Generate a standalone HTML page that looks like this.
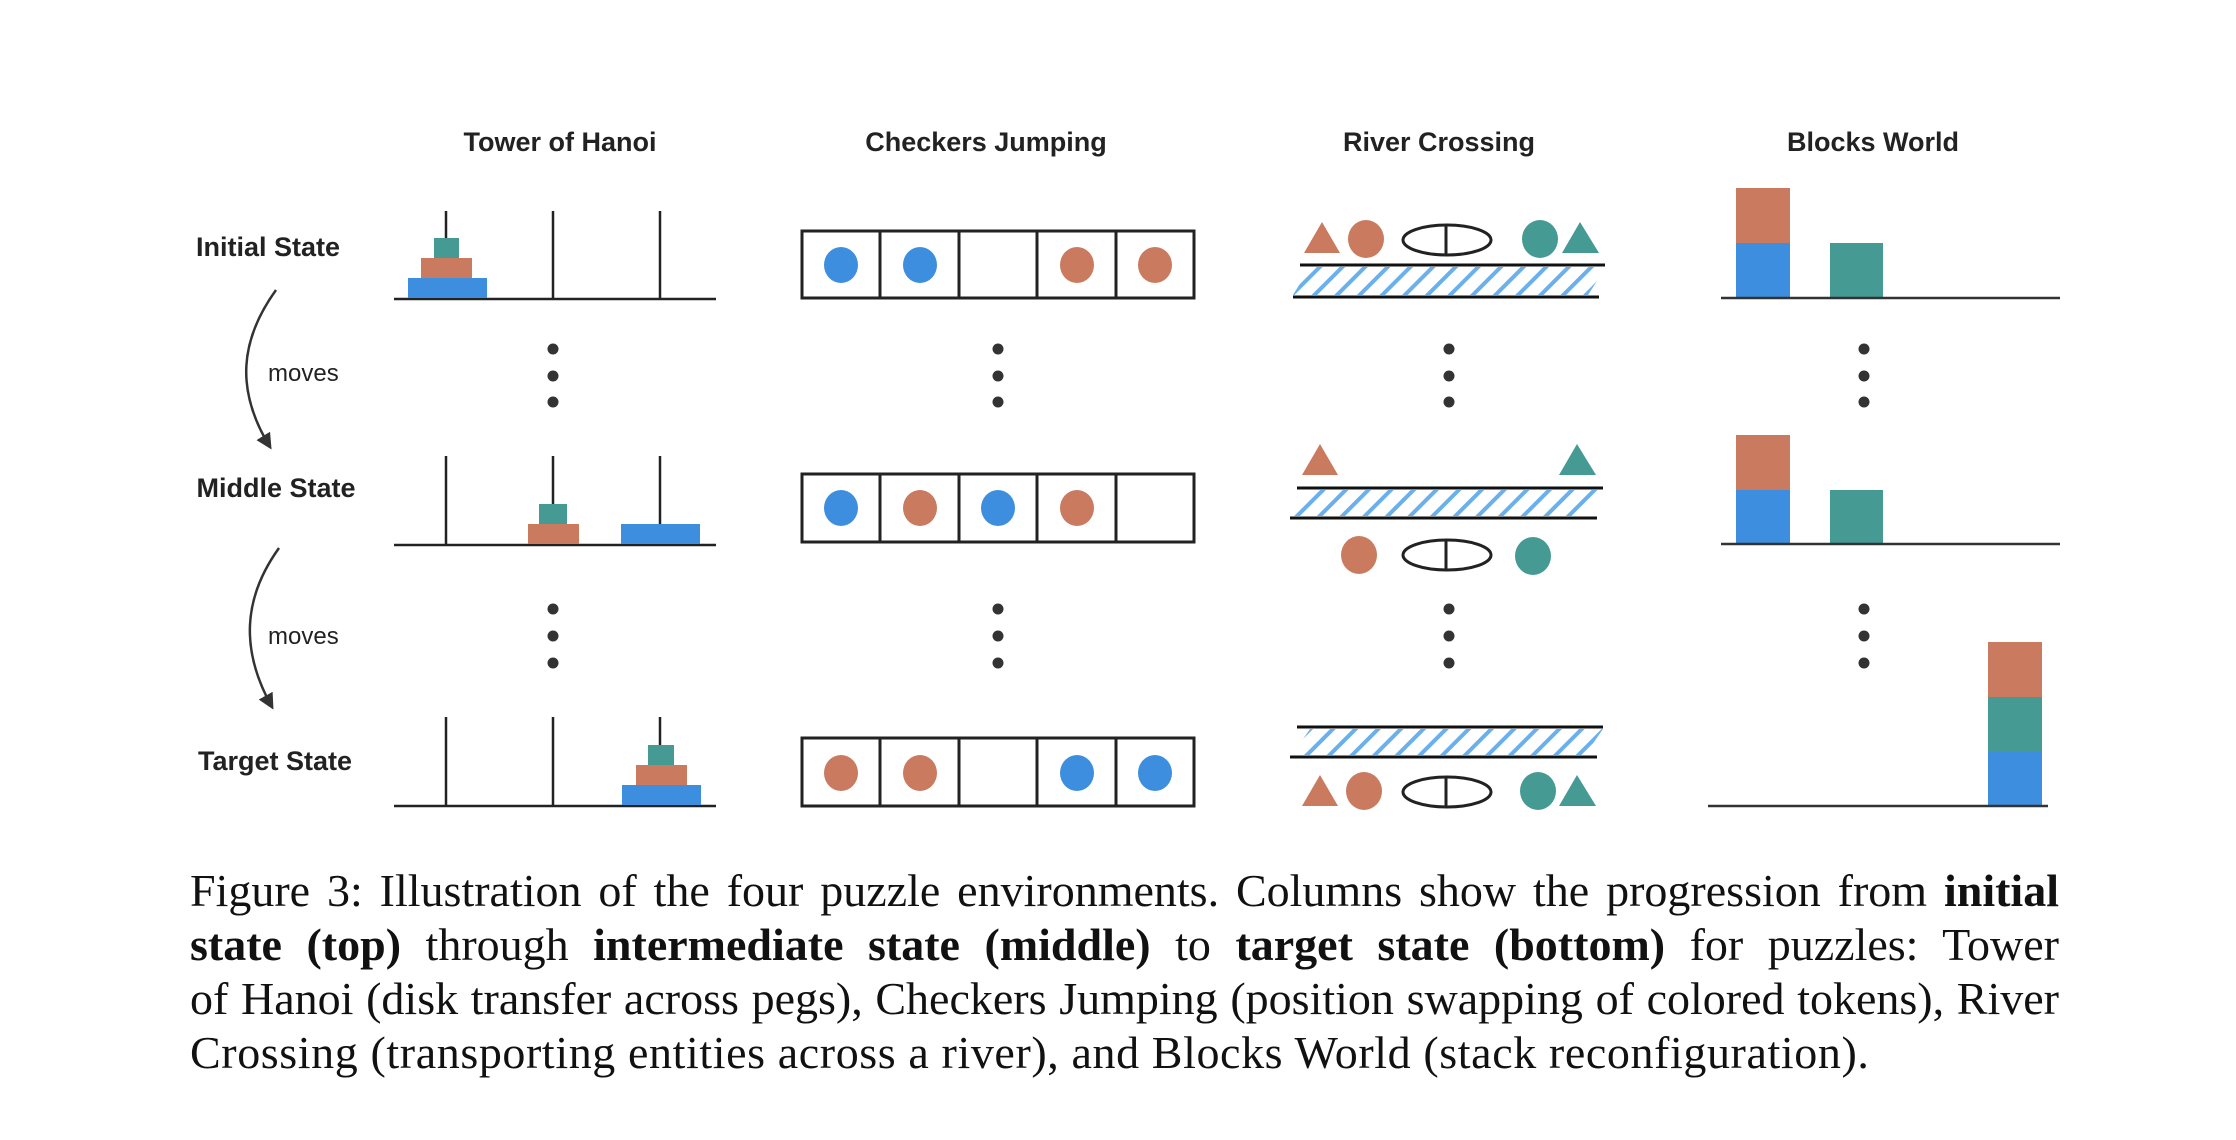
<!DOCTYPE html>
<html><head><meta charset="utf-8"><style>
html,body{margin:0;padding:0;background:#fff;width:2236px;height:1140px;overflow:hidden}
svg{position:absolute;left:0;top:0}
.cap{position:absolute;left:190px;width:1869px;font-family:"Liberation Serif",serif;font-size:46px;color:#111;line-height:54px;white-space:nowrap}
.j{text-align:justify;text-align-last:justify;white-space:normal;word-spacing:-3px}
</style></head><body>
<svg width="2236" height="1140" viewBox="0 0 2236 1140">
<defs>
<pattern id="h" width="16" height="16" patternUnits="userSpaceOnUse" patternTransform="rotate(45)">
<rect x="0" y="0" width="4" height="16" fill="#6ab0ec"/>
</pattern>
<marker id="ar" markerWidth="16" markerHeight="16" refX="13" refY="8" orient="auto" markerUnits="userSpaceOnUse"><path d="M0,0 L16,8 L0,16 Z" fill="#333"/></marker>
</defs>
<g font-family="Liberation Sans, sans-serif" font-weight="bold" font-size="27" fill="#222" text-anchor="middle">
<text x="560" y="151">Tower of Hanoi</text>
<text x="986" y="151">Checkers Jumping</text>
<text x="1439" y="151">River Crossing</text>
<text x="1873" y="151">Blocks World</text>
<text x="268" y="256">Initial State</text>
<text x="276" y="497">Middle State</text>
<text x="275" y="770">Target State</text>
</g>
<g font-family="Liberation Sans, sans-serif" font-size="24" fill="#222">
<text x="268" y="381">moves</text>
<text x="268" y="644">moves</text>
</g>
<g fill="none" stroke="#333" stroke-width="2.5">
<path d="M276,290 C240,340 235,390 270,447" marker-end="url(#ar)"/>
<path d="M279,548 C243,598 240,650 272,707" marker-end="url(#ar)"/>
</g>
<!-- Hanoi -->
<g stroke="#222" stroke-width="2.5">
<line x1="394" y1="299" x2="716" y2="299"/><line x1="446" y1="211" x2="446" y2="299"/><line x1="553" y1="211" x2="553" y2="299"/><line x1="660" y1="211" x2="660" y2="299"/>
<line x1="394" y1="545" x2="716" y2="545"/><line x1="446" y1="456" x2="446" y2="545"/><line x1="553" y1="456" x2="553" y2="545"/><line x1="660" y1="456" x2="660" y2="545"/>
<line x1="394" y1="806" x2="716" y2="806"/><line x1="446" y1="717" x2="446" y2="806"/><line x1="553" y1="717" x2="553" y2="806"/><line x1="660" y1="717" x2="660" y2="806"/>
</g>
<g>
<rect x="408" y="278" width="79" height="20" fill="#3e8ee0"/><rect x="421" y="258" width="51" height="20" fill="#c97a5f"/><rect x="434" y="238" width="25" height="20" fill="#459b94"/>
<rect x="539" y="504" width="28" height="20" fill="#459b94"/><rect x="528" y="524" width="51" height="20" fill="#c97a5f"/><rect x="621" y="524" width="79" height="20" fill="#3e8ee0"/>
<rect x="622" y="785" width="79" height="20" fill="#3e8ee0"/><rect x="636" y="765" width="51" height="20" fill="#c97a5f"/><rect x="648" y="745" width="26" height="20" fill="#459b94"/>
</g>
<!-- dots -->
<g fill="#333">
<circle cx="553" cy="349" r="5.5"/><circle cx="553" cy="376" r="5.5"/><circle cx="553" cy="402" r="5.5"/>
<circle cx="553" cy="609" r="5.5"/><circle cx="553" cy="636" r="5.5"/><circle cx="553" cy="663" r="5.5"/>
<circle cx="998" cy="349" r="5.5"/><circle cx="998" cy="376" r="5.5"/><circle cx="998" cy="402" r="5.5"/>
<circle cx="998" cy="609" r="5.5"/><circle cx="998" cy="636" r="5.5"/><circle cx="998" cy="663" r="5.5"/>
<circle cx="1449" cy="349" r="5.5"/><circle cx="1449" cy="376" r="5.5"/><circle cx="1449" cy="402" r="5.5"/>
<circle cx="1449" cy="609" r="5.5"/><circle cx="1449" cy="636" r="5.5"/><circle cx="1449" cy="663" r="5.5"/>
<circle cx="1864" cy="349" r="5.5"/><circle cx="1864" cy="376" r="5.5"/><circle cx="1864" cy="402" r="5.5"/>
<circle cx="1864" cy="609" r="5.5"/><circle cx="1864" cy="636" r="5.5"/><circle cx="1864" cy="663" r="5.5"/>
</g>
<!-- Checkers -->
<g fill="none" stroke="#222" stroke-width="3">
<rect x="802" y="231" width="392" height="67"/><line x1="880" y1="231" x2="880" y2="298"/><line x1="959" y1="231" x2="959" y2="298"/><line x1="1037" y1="231" x2="1037" y2="298"/><line x1="1116" y1="231" x2="1116" y2="298"/>
<rect x="802" y="474" width="392" height="68"/><line x1="880" y1="474" x2="880" y2="542"/><line x1="959" y1="474" x2="959" y2="542"/><line x1="1037" y1="474" x2="1037" y2="542"/><line x1="1116" y1="474" x2="1116" y2="542"/>
<rect x="802" y="738" width="392" height="68"/><line x1="880" y1="738" x2="880" y2="806"/><line x1="959" y1="738" x2="959" y2="806"/><line x1="1037" y1="738" x2="1037" y2="806"/><line x1="1116" y1="738" x2="1116" y2="806"/>
</g>
<g>
<ellipse cx="841" cy="265" rx="17" ry="18" fill="#3e8ee0"/><ellipse cx="920" cy="265" rx="17" ry="18" fill="#3e8ee0"/><ellipse cx="1077" cy="265" rx="17" ry="18" fill="#c97a5f"/><ellipse cx="1155" cy="265" rx="17" ry="18" fill="#c97a5f"/>
<ellipse cx="841" cy="508" rx="17" ry="18" fill="#3e8ee0"/><ellipse cx="920" cy="508" rx="17" ry="18" fill="#c97a5f"/><ellipse cx="998" cy="508" rx="17" ry="18" fill="#3e8ee0"/><ellipse cx="1077" cy="508" rx="17" ry="18" fill="#c97a5f"/>
<ellipse cx="841" cy="773" rx="17" ry="18" fill="#c97a5f"/><ellipse cx="920" cy="773" rx="17" ry="18" fill="#c97a5f"/><ellipse cx="1077" cy="773" rx="17" ry="18" fill="#3e8ee0"/><ellipse cx="1155" cy="773" rx="17" ry="18" fill="#3e8ee0"/>
</g>
<!-- River -->
<g>
<polygon points="1310,267 1606,267 1588,295 1293,295" fill="url(#h)"/>
<line x1="1300" y1="265" x2="1605" y2="265" stroke="#111" stroke-width="3"/>
<line x1="1293" y1="297" x2="1599" y2="297" stroke="#111" stroke-width="3"/>
<polygon points="1304,253 1322,222 1340,253" fill="#c97a5f"/>
<ellipse cx="1366" cy="239" rx="18" ry="19" fill="#c97a5f"/>
<ellipse cx="1447" cy="240" rx="44" ry="15" fill="none" stroke="#222" stroke-width="3"/><line x1="1446" y1="224" x2="1446" y2="256" stroke="#222" stroke-width="3"/>
<ellipse cx="1540" cy="239" rx="18" ry="19" fill="#459b94"/>
<polygon points="1562,253 1580,222 1599,253" fill="#459b94"/>

<polygon points="1306,490 1603,490 1585,516 1290,516" fill="url(#h)"/>
<line x1="1297" y1="488" x2="1603" y2="488" stroke="#111" stroke-width="3"/>
<line x1="1290" y1="518" x2="1597" y2="518" stroke="#111" stroke-width="3"/>
<polygon points="1302,475 1320,444 1338,475" fill="#c97a5f"/>
<polygon points="1559,475 1577,444 1596,475" fill="#459b94"/>
<ellipse cx="1359" cy="555" rx="18" ry="19" fill="#c97a5f"/>
<ellipse cx="1447" cy="555" rx="44" ry="15" fill="none" stroke="#222" stroke-width="3"/><line x1="1446" y1="539" x2="1446" y2="571" stroke="#222" stroke-width="3"/>
<ellipse cx="1533" cy="556" rx="18" ry="19" fill="#459b94"/>

<polygon points="1310,729 1603,729 1585,755 1292,755" fill="url(#h)"/>
<line x1="1297" y1="727" x2="1603" y2="727" stroke="#111" stroke-width="3"/>
<line x1="1290" y1="757" x2="1597" y2="757" stroke="#111" stroke-width="3"/>
<polygon points="1302,806 1320,775 1338,806" fill="#c97a5f"/>
<ellipse cx="1364" cy="791" rx="18" ry="19" fill="#c97a5f"/>
<ellipse cx="1447" cy="792" rx="44" ry="15" fill="none" stroke="#222" stroke-width="3"/><line x1="1446" y1="776" x2="1446" y2="808" stroke="#222" stroke-width="3"/>
<ellipse cx="1538" cy="791" rx="18" ry="19" fill="#459b94"/>
<polygon points="1559,806 1577,775 1596,806" fill="#459b94"/>
</g>
<!-- Blocks -->
<g>
<rect x="1736" y="188" width="54" height="55" fill="#c97a5f"/><rect x="1736" y="243" width="54" height="54" fill="#3e8ee0"/><rect x="1830" y="243" width="53" height="54" fill="#459b94"/>
<line x1="1721" y1="298" x2="2060" y2="298" stroke="#333" stroke-width="2.5"/>
<rect x="1736" y="435" width="54" height="55" fill="#c97a5f"/><rect x="1736" y="490" width="54" height="53" fill="#3e8ee0"/><rect x="1830" y="490" width="53" height="53" fill="#459b94"/>
<line x1="1721" y1="544" x2="2060" y2="544" stroke="#333" stroke-width="2.5"/>
<rect x="1988" y="642" width="54" height="55" fill="#c97a5f"/><rect x="1988" y="697" width="54" height="54" fill="#459b94"/><rect x="1988" y="751" width="54" height="54" fill="#3e8ee0"/>
<line x1="1708" y1="806" x2="2048" y2="806" stroke="#333" stroke-width="2.5"/>
</g>
</svg>
<div class="cap j" style="top:864px">Figure 3: Illustration of the four puzzle environments. Columns show the progression from <b>initial</b></div>
<div class="cap j" style="top:918px"><b>state (top)</b> through <b>intermediate state (middle)</b> to <b>target state (bottom)</b> for puzzles: Tower</div>
<div class="cap j" style="top:972px">of Hanoi (disk transfer across pegs), Checkers Jumping (position swapping of colored tokens), River</div>
<div class="cap" style="top:1026px;letter-spacing:0.6px">Crossing (transporting entities across a river), and Blocks World (stack reconfiguration).</div>
</body></html>
